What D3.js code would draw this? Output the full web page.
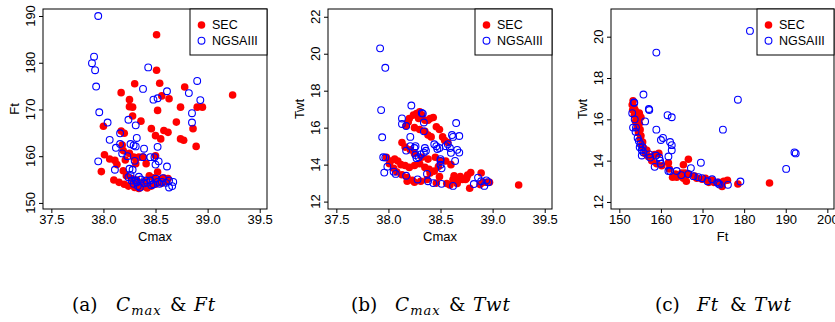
<!DOCTYPE html>
<html>
<head>
<meta charset="utf-8">
<script src="https://cdn.jsdelivr.net/npm/d3@7"></script>
<style>
  body { margin: 0; background: #fff; }
  svg { display: block; }
</style>
</head>
<body>
<svg id="chart" width="835" height="322"></svg>
<script>
// ---- data: (a) Cmax vs Ft ----
const secCmaxFt = [
  [38.51,186.0],[38.51,178.4],[38.54,175.6],[38.30,175.5],[38.17,173.6],[38.25,172.1],[38.25,170.6],
  [38.28,170.5],[38.28,168.6],[38.36,167.5],[38.52,169.8],[38.56,172.9],[38.63,172.3],[38.78,174.8],
  [38.74,170.5],[38.90,170.5],[38.95,170.5],[39.24,173.1],[38.70,167.3],[38.00,166.4],[38.17,165.4],
  [38.20,164.9],[38.46,165.9],[38.50,164.4],[38.58,165.5],[38.62,165.1],[38.55,163.7],[38.74,163.7],
  [38.77,163.4],[38.86,165.9],[38.89,162.1],[38.18,162.4],[38.19,161.2],[38.01,160.3],[37.98,156.7],
  [38.06,159.4],[38.11,159.1],[38.10,154.9],[38.13,158.2],[38.21,159.2],[38.25,160.6],[38.29,159.8],
  [38.31,158.4],[38.34,159.8],[38.38,159.8],[38.41,158.4],[38.50,160.1],[38.52,156.6],[38.19,156.9],
  [38.15,154.4],[38.20,154.0],[38.24,153.6],[38.28,153.8],[38.30,153.3],[38.34,153.1],[38.38,153.5],
  [38.42,153.2],[38.46,153.6],[38.50,154.0],[38.54,155.0],[38.58,155.3],[38.62,155.2],[38.48,155.4],
  [38.44,155.8],[38.40,154.6],[38.36,154.2],[38.32,154.9],[38.27,155.2],[38.22,155.8],[38.56,154.2],
  [38.60,154.6]
];
const ngsaCmaxFt = [
  [37.95,190.0],[37.91,181.3],[37.89,179.9],[37.92,178.4],[37.93,174.9],[37.96,169.4],[37.95,158.9],
  [38.04,167.2],[38.06,163.5],[38.11,157.1],[38.12,161.8],[38.16,164.9],[38.16,162.6],[38.18,160.6],
  [38.24,167.8],[38.23,160.0],[38.25,157.3],[38.26,162.6],[38.29,162.3],[38.28,157.1],[38.31,166.6],
  [38.31,162.1],[38.32,163.9],[38.30,159.0],[38.38,159.8],[38.39,161.6],[38.38,174.4],[38.43,179.0],
  [38.48,172.1],[38.52,172.4],[38.52,162.0],[38.49,159.8],[38.45,159.8],[38.50,158.2],[38.53,158.9],
  [38.61,157.8],[38.61,173.9],[38.82,173.5],[38.90,176.1],[38.93,172.0],[38.85,169.2],[38.85,167.2],
  [38.24,155.5],[38.27,154.8],[38.32,154.4],[38.33,153.6],[38.36,155.0],[38.41,154.8],[38.45,154.8],
  [38.50,155.2],[38.56,154.5],[38.60,154.3],[38.63,154.8],[38.66,153.6],[38.67,154.5],[38.63,153.3],
  [38.35,153.3],[38.29,154.1],[38.34,155.6],[38.42,154.3],[38.48,154.0],[38.54,154.1],[38.31,154.8],
  [38.39,154.2],[38.46,153.8],[38.52,154.5],[38.26,156.0],[38.57,155.3]
];

// ---- data: (b) Cmax vs Twt ----
const secCmaxTwt = [
  [39.25,12.90],[38.89,13.55],[38.91,13.05],[38.94,13.05],[38.88,12.92],[38.97,13.05],[38.79,13.57],
  [38.78,12.72],[38.71,13.20],[38.74,13.20],[38.75,13.27],[38.76,13.43],[38.62,13.20],[38.65,13.10],
  [38.68,13.20],[38.66,12.98],[38.59,12.90],[38.56,12.98],[38.63,13.40],[38.69,13.36],
  [38.20,16.50],[38.24,16.68],[38.27,16.77],[38.29,16.50],[38.30,16.86],[38.32,16.68],[38.35,16.40],
  [38.38,16.40],[38.40,16.50],[38.43,16.55],[38.17,16.10],[38.19,16.30],[38.25,16.00],[38.30,15.90],
  [38.35,15.80],[38.38,15.60],[38.41,15.50],[38.46,16.05],[38.49,15.90],[38.52,15.50],[38.54,15.30],
  [38.57,15.20],[38.13,15.20],[38.16,14.95],[38.21,14.80],[38.25,14.60],[38.32,14.40],[38.38,14.30],
  [38.45,14.40],[38.50,14.20],[38.55,14.20],[38.60,14.00],[37.98,14.40],[38.02,14.20],[38.06,14.30],
  [38.09,14.20],[38.12,14.00],[38.16,13.95],[38.20,13.85],[38.25,13.95],[38.30,14.05],[38.35,13.85],
  [38.39,13.75],[38.44,13.65],[38.48,13.90],[38.01,14.05],[38.05,13.80],[38.08,13.60],[38.13,13.45],
  [38.18,13.30],[38.23,13.15],[38.18,13.10],[38.25,13.05],[38.31,13.10],[38.37,13.20],[38.40,13.55],
  [38.49,13.35],[38.46,13.00]
];
const ngsaCmaxTwt = [
  [37.92,20.29],[37.97,19.24],[37.93,16.95],[38.22,17.20],[37.94,15.48],[37.95,14.40],[37.97,14.38],
  [37.96,13.57],[37.99,13.89],[38.05,13.62],[38.07,13.50],[38.13,16.50],[38.13,16.20],[38.17,16.09],
  [38.17,14.76],[38.17,13.40],[38.21,15.50],[38.21,15.00],[38.25,14.90],[38.26,15.00],[38.26,14.52],
  [38.27,14.35],[38.28,13.20],[38.29,14.40],[38.31,14.55],[38.32,16.80],[38.33,16.76],[38.34,16.28],
  [38.34,15.80],[38.35,14.90],[38.36,14.75],[38.34,14.65],[38.37,13.50],[38.38,13.10],[38.43,13.00],
  [38.44,15.10],[38.46,15.00],[38.47,14.85],[38.49,14.90],[38.50,14.20],[38.50,14.00],[38.51,13.80],
  [38.50,14.30],[38.51,12.96],[38.55,15.00],[38.57,15.10],[38.59,14.90],[38.60,14.64],[38.61,15.60],
  [38.62,15.50],[38.65,16.25],[38.68,15.55],[38.66,14.80],[38.68,14.65],[38.64,14.20],[38.62,12.85],
  [38.82,12.95],[38.86,13.30],[38.89,13.10],[38.92,12.85],[38.94,13.15],[38.96,13.05]
];

// ---- data: (c) Ft vs Twt ----
const secFtTwt = [
  [186.1,12.92],[178.5,12.87],[176.0,13.05],[175.1,13.00],[173.9,12.95],[174.7,12.75],[172.3,13.05],
  [172.7,12.95],[171.5,12.95],[170.7,13.15],[169.9,13.10],[168.6,13.15],[168.1,13.25],[166.6,13.35],
  [165.8,13.40],[165.0,13.40],[165.4,13.15],[166.1,13.00],[166.6,14.07],[165.4,13.80],[163.5,13.35],
  [162.8,13.20],[163.8,13.20],[161.8,13.90],[162.0,13.60],[160.2,13.75],[159.0,13.85],[157.8,14.00],
  [157.0,14.20],[156.2,14.35],[158.5,14.30],[159.5,14.35],[153.1,16.70],[153.3,16.90],[153.5,16.60],
  [153.8,16.45],[154.2,16.30],[154.4,16.00],[154.8,15.80],[155.0,15.50],[155.2,15.20],[155.6,14.90],
  [155.9,14.60],[153.2,16.45],[153.6,16.20],[153.9,15.90],[154.3,15.60],[154.6,15.35],[155.0,15.05],
  [155.4,14.75],[156.6,14.50],[155.2,16.10],[154.8,16.30]
];
const ngsaFtTwt = [
  [181.4,20.28],[158.9,19.23],[155.8,17.20],[178.5,16.95],[174.9,15.50],[192.1,14.40],[192.4,14.35],
  [190.1,13.60],[179.1,12.99],[169.6,13.90],[167.2,13.64],[157.1,16.50],[157.2,16.45],[161.6,16.20],
  [162.6,16.10],[156.2,15.90],[158.9,15.50],[160.0,15.00],[160.5,15.10],[162.2,14.90],[162.6,14.75],
  [162.6,14.50],[161.8,14.20],[153.5,16.82],[153.6,16.80],[153.1,16.30],[153.7,16.00],[154.0,15.60],
  [153.9,15.40],[153.3,15.60],[154.4,15.10],[154.7,14.95],[155.1,14.80],[154.9,14.65],[155.4,14.50],
  [155.8,14.40],[155.4,14.25],[157.2,14.30],[158.8,14.25],[159.6,14.15],[158.5,13.70],[159.8,14.00],
  [160.0,13.85],[161.8,13.50],[162.2,13.50],[163.8,13.50],[164.9,13.30],[166.6,13.35],[167.8,13.25],
  [169.0,13.20],[169.9,13.15],[172.3,13.10],[173.5,12.95],[174.1,12.85],[176.1,12.83],[173.8,12.90],
  [171.2,13.00],[157.4,14.15],[155.6,14.65]
];

// ---- tick labels ----
const cmaxTicks = [37.5, 38.0, 38.5, 39.0, 39.5];
const ftTicksA = [150, 160, 170, 180, 190];
const twtTicksB = [12, 14, 16, 18, 20, 22];
const ftTicksC = [150, 160, 170, 180, 190, 200];
const twtTicksC = [12, 14, 16, 18, 20];
const seriesNames = ['SEC', 'NGSAIII'];

const svg = d3.select('#chart');
const axisFont = 'Liberation Sans, Arial, Helvetica, sans-serif';

const panels = [
  { left: 43, right: 267, xDomain: [37.42, 39.57], yDomain: [148.7, 191.5],
    xTicks: cmaxTicks, yTicks: ftTicksA, xFmt: d3.format('.1f'),
    xTitle: 'Cmax', yTitle: 'Ft', sec: secCmaxFt, ngsa: ngsaCmaxFt },
  { left: 328, right: 552, xDomain: [37.42, 39.57], yDomain: [11.6, 22.42],
    xTicks: cmaxTicks, yTicks: twtTicksB, xFmt: d3.format('.1f'),
    xTitle: 'Cmax', yTitle: 'Twt', sec: secCmaxTwt, ngsa: ngsaCmaxTwt },
  { left: 611, right: 834, xDomain: [148, 201.6], yDomain: [11.66, 21.34],
    xTicks: ftTicksC, yTicks: twtTicksC, xFmt: d3.format('d'),
    xTitle: 'Ft', yTitle: 'Twt', sec: secFtTwt, ngsa: ngsaFtTwt }
];

const plotTop = 9, plotBottom = 209;

panels.forEach(p => {
  const g = svg.append('g');
  const x = d3.scaleLinear().domain(p.xDomain).range([p.left, p.right]);
  const y = d3.scaleLinear().domain(p.yDomain).range([plotBottom, plotTop]);

  // points, SEC underneath
  g.selectAll('.sec').data(p.sec).enter().append('circle')
    .attr('cx', d => x(d[0])).attr('cy', d => y(d[1]))
    .attr('r', 3.8).attr('fill', '#ff0000');

  g.selectAll('.ngsa').data(p.ngsa).enter().append('circle')
    .attr('cx', d => x(d[0])).attr('cy', d => y(d[1]))
    .attr('r', 3.4).attr('fill', 'none')
    .attr('stroke', '#0000ff').attr('stroke-width', 1.1);

  // x axis
  const xa = g.append('g')
    .attr('transform', `translate(0,${plotBottom})`)
    .call(d3.axisBottom(x).tickValues(p.xTicks).tickFormat(p.xFmt).tickSize(4).tickPadding(1.5));
  xa.select('.domain').remove();
  xa.selectAll('text').style('font-family', axisFont).style('font-size', '13px').attr('fill', '#000');

  // y axis, labels rotated like R
  const ya = g.append('g')
    .attr('transform', `translate(${p.left},0)`)
    .call(d3.axisLeft(y).tickValues(p.yTicks).tickFormat('').tickSize(4));
  ya.select('.domain').remove();

  g.selectAll('.ylab').data(p.yTicks).enter().append('text')
    .attr('transform', d => `translate(${p.left - 13},${y(d)}) rotate(-90)`)
    .attr('text-anchor', 'middle')
    .attr('dominant-baseline', 'central')
    .style('font-family', axisFont).style('font-size', '13px')
    .text(d => d);

  // box
  g.append('rect')
    .attr('x', p.left).attr('y', plotTop)
    .attr('width', p.right - p.left).attr('height', plotBottom - plotTop)
    .attr('fill', 'none').attr('stroke', '#000').attr('stroke-width', 1);

  // axis titles
  g.append('text')
    .attr('x', (p.left + p.right) / 2).attr('y', 236)
    .attr('text-anchor', 'middle').attr('dominant-baseline', 'central')
    .style('font-family', axisFont).style('font-size', '13px')
    .text(p.xTitle);

  g.append('text')
    .attr('transform', `translate(${p.left - 29},${(plotTop + plotBottom) / 2}) rotate(-90)`)
    .attr('text-anchor', 'middle').attr('dominant-baseline', 'central')
    .style('font-family', axisFont).style('font-size', '13px')
    .text(p.yTitle);

  // legend (topright)
  const lx = p.right - 77;
  const leg = g.append('g');
  leg.append('rect')
    .attr('x', lx).attr('y', plotTop).attr('width', 77).attr('height', 46)
    .attr('fill', '#fff').attr('stroke', '#000').attr('stroke-width', 1);
  seriesNames.forEach((name, i) => {
    const cy = plotTop + 16 + i * 15.7;
    if (i === 0) {
      leg.append('circle').attr('cx', lx + 11.5).attr('cy', cy).attr('r', 3.8).attr('fill', '#ff0000');
    } else {
      leg.append('circle').attr('cx', lx + 11.5).attr('cy', cy).attr('r', 3.4)
        .attr('fill', 'none').attr('stroke', '#0000ff').attr('stroke-width', 1.1);
    }
    leg.append('text')
      .attr('x', lx + 22).attr('y', cy)
      .attr('dominant-baseline', 'central')
      .style('font-family', axisFont).style('font-size', '12.5px')
      .text(name);
  });
});

// ---- sub-captions: label, first variable, "&", second variable ----
const captions = [
  { label: '(a)', a: 'C', aSub: 'max', b: 'Ft',  xs: [72, 116, 170, 194] },
  { label: '(b)', a: 'C', aSub: 'max', b: 'Twt', xs: [351, 395, 449, 473] },
  { label: '(c)', a: 'Ft', aSub: '',   b: 'Twt', xs: [655, 697, 730, 754] }
];
const capFont = 'DejaVu Serif, Liberation Serif, serif';
captions.forEach(c => {
  const g = svg.append('g')
    .style('font-family', capFont).style('font-size', '18.5px').attr('fill', '#000');
  g.append('text').attr('x', c.xs[0]).attr('y', 311).text(c.label);
  const t = g.append('text').attr('x', c.xs[1]).attr('y', 311)
    .style('font-style', 'italic').style('letter-spacing', '1px');
  t.append('tspan').text(c.a);
  if (c.aSub) {
    t.append('tspan').style('font-size', '13px').attr('dy', 4).text(c.aSub);
  }
  g.append('text').attr('x', c.xs[2]).attr('y', 311).text('&');
  g.append('text').attr('x', c.xs[3]).attr('y', 311)
    .style('font-style', 'italic').style('letter-spacing', '1px').text(c.b);
});
</script>
</body>
</html>
